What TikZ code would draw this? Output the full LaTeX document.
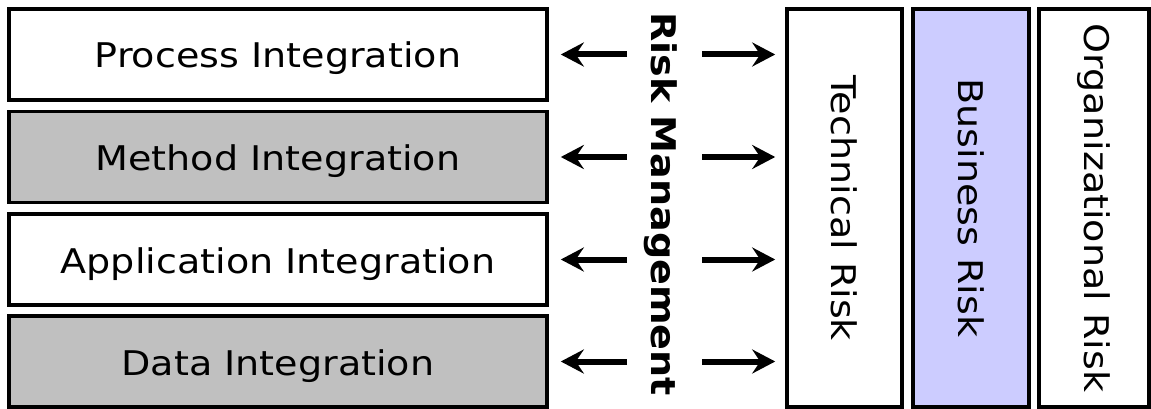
\documentclass[tikz,border=0pt]{standalone}
\usepackage{fontspec}
\setmainfont[FakeStretch=1.12]{DejaVu Sans}
\usetikzlibrary{arrows.meta}
\definecolor{boxgray}{HTML}{C0C0C0}
\definecolor{boxblue}{HTML}{CCCCFF}
\tikzset{
  layerbox/.style={draw=black, line width=3.6pt, minimum width=538pt, minimum height=91pt, inner sep=0pt},
  layertext/.style={font=\fontsize{34}{40}\selectfont, inner sep=0pt, text height=25pt, text depth=0pt},
  riskbox/.style={draw=black, line width=3.6pt, minimum height=398pt, inner sep=0pt},
  risktext/.style={rotate=-90, font=\fontsize{34}{40}\selectfont, inner sep=0pt},
  arr/.style={line width=6pt, -{Stealth[length=23pt,width=24pt,inset=8pt]}},
}
\begin{document}
\begin{tikzpicture}[x=1pt,y=-1pt]
\useasboundingbox (0,0) rectangle (1151,409);
% left layer boxes
\node[layerbox, fill=white]   (p1) at (278,54.5)  {};
\node[layerbox, fill=boxgray] (p2) at (278,157)   {};
\node[layerbox, fill=white]   (p3) at (278,259.5) {};
\node[layerbox, fill=boxgray] (p4) at (278,361.5) {};
\node[layertext] (p1t) at ([yshift=-1pt]p1.center) {Process Integration};
\node[layertext] (p2t) at ([yshift=-1pt]p2.center) {Method Integration};
\node[layertext] (p3t) at ([yshift=-1pt]p3.center) {Application Integration};
\node[layertext] (p4t) at ([yshift=-1pt]p4.center) {Data Integration};
% right risk columns
\node[riskbox, fill=white, minimum width=115pt]   (tech) at (844.5,208) {};
\node[riskbox, fill=boxblue, minimum width=116pt] (bus)  at (971,208) {};
\node[riskbox, fill=white, minimum width=110pt]   (org)  at (1094,208) {};
\node[risktext] (techt) at (tech.center) {Technical Risk};
\node[risktext] (bust)  at (bus.center) {Business Risk};
\node[risktext] (orgt)  at (org.center) {Organizational Risk};
% center label
\node[risktext, font=\fontsize{34}{40}\selectfont\bfseries] (rm) at (661,204) {Risk Management};
% arrows
\foreach \i/\y in {1/54.5,2/157,3/259.5,4/361.5}{
  \coordinate (la\i) at (627,\y);
  \coordinate (ra\i) at (702,\y);
  \draw[arr, shorten >=12pt] (la\i) -- (p\i.east);
  \draw[arr, shorten >=10pt] (ra\i) -- (ra\i -| tech.west);
}
\end{tikzpicture}
\end{document}
